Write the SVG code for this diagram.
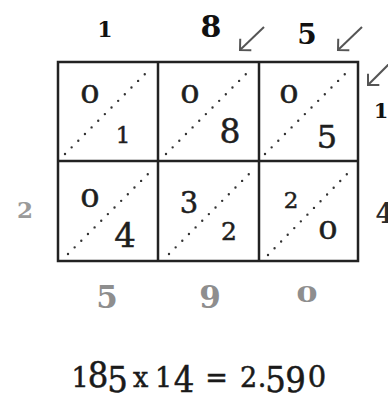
<svg xmlns="http://www.w3.org/2000/svg" width="388" height="394" viewBox="0 0 388 394">
<style>
text{font-family:"DejaVu Serif","Liberation Serif",serif;text-anchor:middle}
.lbl{font-weight:bold;fill:#111}
.gray{font-weight:bold;fill:#8e8e8e}
.cell{fill:#1e1e1e;stroke:#1e1e1e;stroke-width:0.5}
.frm{fill:#1a1a1a;stroke:#1a1a1a;stroke-width:0.5}
.cd{font-family:"DejaVu Serif Condensed","DejaVu Serif",serif}
.grid{fill:#fff;stroke:#222;stroke-width:2.5}
.gl{stroke:#222;stroke-width:2.5}
.diag{stroke:#333;stroke-width:2.4;stroke-linecap:round;stroke-dasharray:0 9.4;fill:none}
.arr{stroke:#555;stroke-width:2;fill:none;marker-end:url(#ah)}
</style>
<defs>
<marker id="ah" markerUnits="userSpaceOnUse" markerWidth="20" markerHeight="20" refX="0" refY="0" viewBox="-10 -10 20 20" orient="auto" overflow="visible">
<path d="M-8,-8 L0,0 L-8,8" fill="none" stroke="#555" stroke-width="2"/>
</marker>
</defs>
<rect width="388" height="394" fill="#fff"/>

<g id="grid">
<rect class="grid" x="58" y="62" width="300" height="199"/>
<line class="gl" x1="158" y1="62" x2="158" y2="261"/>
<line class="gl" x1="259" y1="62" x2="259" y2="261"/>
<line class="gl" x1="58" y1="161" x2="358" y2="161"/>
</g>

<g id="connectors">
<line class="diag" x1="65" y1="154" x2="151" y2="68"/>
<line class="diag" x1="166" y1="154" x2="252" y2="68"/>
<line class="diag" x1="265" y1="154" x2="351" y2="68"/>
<line class="diag" x1="68" y1="254" x2="153" y2="169"/>
<line class="diag" x1="169" y1="254" x2="254" y2="169"/>
<line class="diag" x1="268" y1="255" x2="351" y2="170"/>
<line class="arr" x1="264" y1="27" x2="240" y2="50"/>
<line class="arr" x1="362" y1="27" x2="338" y2="50"/>
<line class="arr" x1="392" y1="61" x2="368" y2="85"/>
</g>

<g id="top-labels">
<text class="lbl" x="105" y="37" font-size="22">1</text>
<text class="lbl" x="211" y="37" font-size="30">8</text>
<text class="lbl" x="307" y="44" font-size="28">5</text>
</g>

<g id="side-labels">
<text class="gray" x="25" y="218" font-size="23" style="fill:#9a9a9a">2</text>
<text class="lbl" x="381" y="118" font-size="21">1</text>
<text class="lbl" x="385" y="223" font-size="28" style="fill:#2a2a2a">4</text>
</g>

<g id="cell-r0c0">
<text class="cell" transform="translate(90,103) scale(1.25,1)" font-size="25">0</text>
<text class="cell" x="123" y="143" font-size="23">1</text>
</g>
<g id="cell-r0c1">
<text class="cell" transform="translate(190,103) scale(1.25,1)" font-size="25">0</text>
<text class="cell" x="230" y="143" font-size="33">8</text>
</g>
<g id="cell-r0c2">
<text class="cell" transform="translate(289,103) scale(1.25,1)" font-size="25">0</text>
<text class="cell" x="327" y="148" font-size="32">5</text>
</g>
<g id="cell-r1c0">
<text class="cell" transform="translate(90,207) scale(1.25,1)" font-size="25">0</text>
<text class="cell" x="125" y="247" font-size="34">4</text>
</g>
<g id="cell-r1c1">
<text class="cell" x="189" y="213" font-size="29">3</text>
<text class="cell" x="229" y="240" font-size="25">2</text>
</g>
<g id="cell-r1c2">
<text class="cell" x="291" y="208" font-size="23">2</text>
<text class="cell" transform="translate(328,239) scale(1.25,1)" font-size="25">0</text>
</g>

<g id="bottom-labels">
<text class="gray" x="107" y="308" font-size="31">5</text>
<text class="gray" x="210" y="308" font-size="31">9</text>
<text class="gray" transform="translate(307,302) scale(1.4,1)" font-size="22">0</text>
</g>

<g id="formula">
<text class="frm"><tspan x="80" y="387" font-size="27">1</tspan><tspan class="cd" x="98" y="387" font-size="36">8</tspan><tspan class="cd" x="117.5" y="392" font-size="36">5</tspan><tspan x="129" y="387"> </tspan><tspan x="140.5" y="387" font-size="27">x</tspan><tspan x="152" y="387"> </tspan><tspan x="163.5" y="387" font-size="27">1</tspan><tspan class="cd" x="184" y="392" font-size="36">4</tspan><tspan x="200" y="387"> </tspan><tspan x="216.5" y="387" font-size="27">=</tspan><tspan x="232" y="387"> </tspan><tspan x="248.5" y="387" font-size="27">2</tspan><tspan x="262" y="387" font-size="27">.</tspan><tspan class="cd" x="275.5" y="392" font-size="36">5</tspan><tspan class="cd" x="295.5" y="392" font-size="36">9</tspan><tspan x="317" y="387" font-size="29">0</tspan></text>
</g>
</svg>
